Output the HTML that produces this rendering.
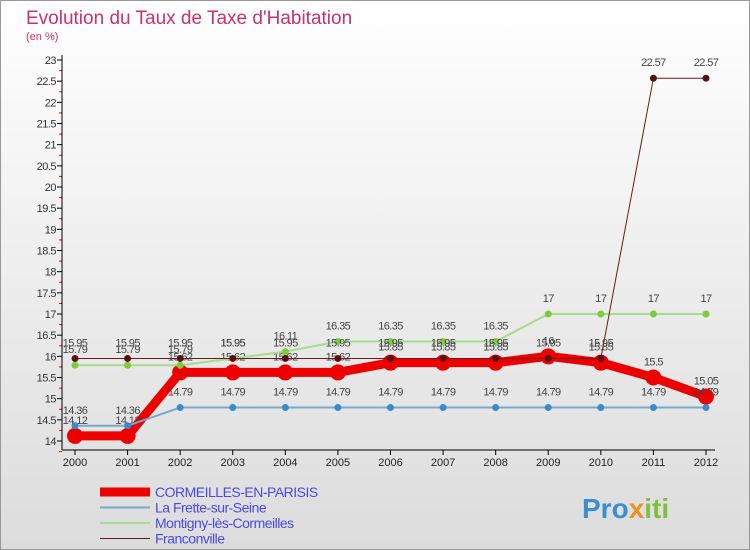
<!DOCTYPE html>
<html><head><meta charset="utf-8"><style>
body{margin:0;width:750px;height:550px;overflow:hidden;font-family:"Liberation Sans",sans-serif;}
#wrap{position:relative;width:748px;height:548px;border:1px solid #999;background:linear-gradient(#fff,#dcdcdc);}
</style></head><body>
<div id="wrap">
<svg id="chart" width="750" height="550" style="position:absolute;left:-1px;top:-1px">
<text x="26" y="24" font-size="19" fill="#c8326e">Evolution du Taux de Taxe d'Habitation</text>
<text x="26" y="40" font-size="11" fill="#c8326e">(en %)</text>
<g id="grid"></g><g id="axes"></g><g id="series"></g><g id="legend"></g>
<text x="582" y="518" font-size="28" font-weight="bold" fill="#3a8fd0">Pro<tspan fill="#f09020">x</tspan><tspan fill="#80c040">iti</tspan></text>
</svg></div>
<script>
const years=[2000,2001,2002,2003,2004,2005,2006,2007,2008,2009,2010,2011,2012];
const yTicks=[14,14.5,15,15.5,16,16.5,17,17.5,18,18.5,19,19.5,20,20.5,21,21.5,22,22.5,23];
const cormeilles=[14.12,14.12,15.62,15.62,15.62,15.62,15.85,15.85,15.85,16,15.85,15.5,15.05];
const frette=[14.36,14.36,14.79,14.79,14.79,14.79,14.79,14.79,14.79,14.79,14.79,14.79,14.79];
const montigny=[15.79,15.79,15.79,15.95,16.11,16.35,16.35,16.35,16.35,17,17,17,17];
const franconville=[15.95,15.95,15.95,15.95,15.95,15.95,15.95,15.95,15.95,15.95,15.95,22.57,22.57];
const names=["CORMEILLES-EN-PARISIS","La Frette-sur-Seine","Montigny-lès-Cormeilles","Franconville"];
const NS="http://www.w3.org/2000/svg";
const X=i=>75+i*(706-75)/12, Y=v=>441-(v-14)*(441-60)/9;
function mk(p,t,a){const e=document.createElementNS(NS,t);for(const k in a)e.setAttribute(k,a[k]);p.appendChild(e);return e;}
const axes=document.getElementById('axes'),grid=document.getElementById('grid');
yTicks.forEach(v=>{
 const l=mk(axes,'line',{x1:57,x2:62,y1:Y(v),y2:Y(v),stroke:'#000'});
 
 
 const m=mk(axes,'line',{x1:59,x2:62,y1:Y(v)+10.6,y2:Y(v)+10.6,stroke:'#e00'});
 
 
 const t=mk(axes,'text',{x:56,y:Y(v)+4,'font-size':11,'text-anchor':'end',fill:'#333','letter-spacing':'-0.5'});
 t.textContent=String(v);
 
 
});
const ya=mk(axes,'line',{x1:62,x2:62,y1:55,y2:450,stroke:'#000'});


const xa=mk(axes,'line',{x1:62,x2:715,y1:450,y2:450,stroke:'#000'});


years.forEach((y,i)=>{
 const l=mk(axes,'line',{x1:X(i),x2:X(i),y1:450,y2:455,stroke:'#000'});
 
 
 const t=mk(axes,'text',{x:X(i),y:466,'font-size':11,'text-anchor':'middle',fill:'#222'});
 t.textContent=y;
 
 
});
const ser=document.getElementById('series');
const defs=[[franconville,'#6b1a1a',1,3.5,'#5a1010','franconville'],[montigny,'#a8dc8c',2,3.5,'#7ccc3c','montigny'],[frette,'#78a8d0',2,3.5,'#3a8cc8','la-frette'],[cormeilles,'#ee0000',9,8,'#ee0000','cormeilles']];
[defs[3],defs[2],defs[1],defs[0]].forEach(([d,c,w,r,pc,n])=>{
 const g=mk(ser,'g',{});
 
 
 const p=mk(g,'polyline',{points:d.map((v,i)=>X(i)+','+Y(v)).join(' '),fill:'none',stroke:c,'stroke-width':w});
 
 
 d.forEach((v,i)=>{
  const ci=mk(g,'circle',{cx:X(i),cy:Y(v),r:r,fill:pc});
  
  
  const t=mk(g,'text',{x:X(i),y:Y(v)-12,'font-size':11,'text-anchor':'middle',fill:'#444','letter-spacing':'-0.6'});
  t.textContent=String(v);
  
  
 });
});
const lg=document.getElementById('legend');
defs.slice().reverse().forEach(([d,c,w],k)=>{
 const yy=492+k*15.5;
 const l=mk(lg,'line',{x1:100,x2:150,y1:yy,y2:yy,stroke:c,'stroke-width':w});
 
 
 const t=mk(lg,'text',{x:155,y:yy+5,'font-size':14,fill:'#4a4ae0','letter-spacing':'-0.5'});
 t.textContent=names[k];
 
 
});
</script>
</body></html>
